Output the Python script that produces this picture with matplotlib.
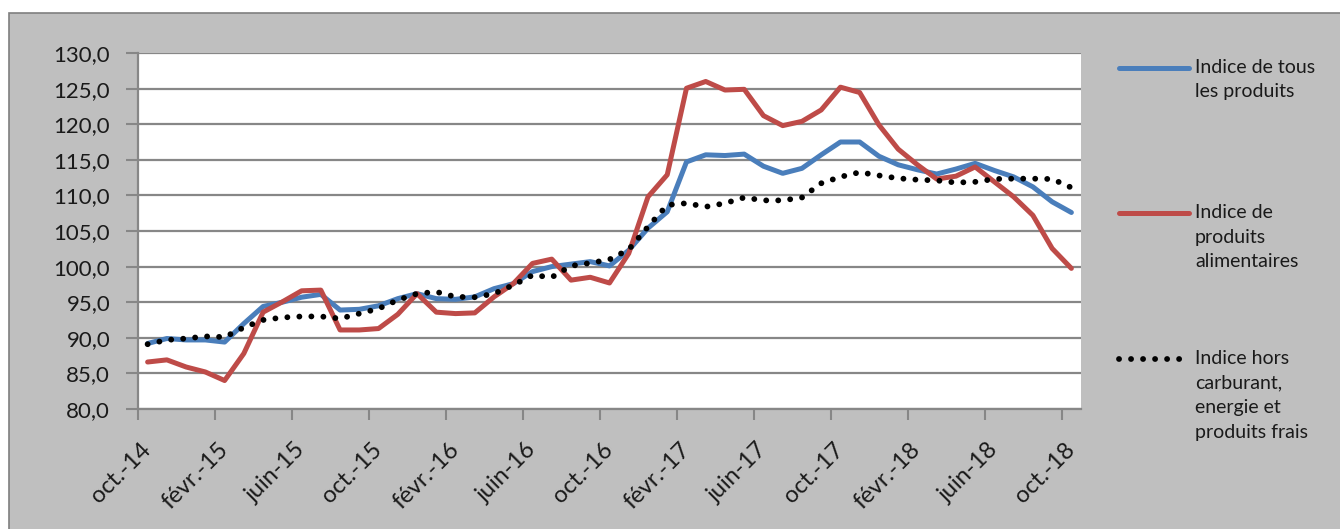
import matplotlib.pyplot as plt
from matplotlib.lines import Line2D
from matplotlib.patches import Rectangle
import numpy as np

# monthly indices, oct. 2014 -> oct. 2018
tous = [89.2, 89.9, 89.7, 89.7, 89.4, 92.0, 94.4, 95.0, 95.7, 96.1,
        93.9, 94.0, 94.5, 95.5, 96.2, 95.5, 95.4, 95.75, 96.9, 97.6,
        99.3, 100.0, 100.35, 100.7, 100.1, 102.3, 105.4, 107.7, 114.7, 115.7,
        115.6, 115.8, 114.1, 113.1, 113.8, 115.7, 117.5, 117.5, 115.5, 114.3,
        113.6, 113.0, 113.7, 114.5, 113.5, 112.6, 111.2, 109.1, 107.6]
alim = [86.6, 86.9, 85.9, 85.2, 84.0, 87.8, 93.6, 95.05, 96.6, 96.7,
        91.1, 91.1, 91.3, 93.3, 96.2, 93.6, 93.4, 93.5, 95.75, 97.6,
        100.45, 101.05, 98.1, 98.5, 97.7, 101.85, 109.8, 112.9, 125.05, 126.0,
        124.8, 124.9, 121.2, 119.8, 120.4, 122.0, 125.2, 124.45, 119.9, 116.5,
        114.3, 112.3, 112.7, 114.0, 111.9, 109.8, 107.2, 102.55, 99.75]
hors = [89.1, 89.7, 89.9, 90.2, 90.1, 91.45, 92.5, 92.85, 93.0, 93.0,
        92.7, 93.4, 94.1, 95.3, 96.2, 96.45, 95.75, 95.7, 96.2, 97.4,
        98.8, 98.5, 100.1, 100.5, 101.0, 102.4, 105.6, 108.65, 108.9, 108.4,
        108.9, 109.7, 109.3, 109.3, 109.7, 111.7, 112.6, 113.25, 112.8, 112.4,
        112.2, 112.1, 111.8, 111.9, 112.3, 112.35, 112.35, 112.3, 111.1]

tick_labels = ['oct.-14', 'févr.-15', 'juin-15', 'oct.-15', 'févr.-16', 'juin-16',
               'oct.-16', 'févr.-17', 'juin-17', 'oct.-17', 'févr.-18', 'juin-18',
               'oct.-18']
series_labels = ['Indice de tous\nles produits',
                 'Indice de\nproduits\nalimentaires',
                 'Indice hors\ncarburant,\nenergie et\nproduits frais']

BLUE = '#4A7EBB'
RED = '#BE4B48'
GREY_BG = '#BFBFBF'
GRID = '#878787'

plt.rcParams['font.family'] = ['Lato', 'DejaVu Sans']

W, H = 1340, 529
fig = plt.figure(figsize=(W / 100, H / 100), dpi=100, facecolor='white')

# grey chart panel
fig.add_artist(Rectangle((9 / W, -0.01), 1.0, 1 - 13 / H + 0.01, transform=fig.transFigure,
                         facecolor=GREY_BG, edgecolor='#7F7F7F', linewidth=1.2,
                         zorder=-5))

ax = fig.add_axes([138 / W, 1 - 409 / H, (1081 - 138) / W, (409 - 53) / H])
ax.set_facecolor('white')

DOTS = dict(color='black', lw=4.2, linestyle=(0, (0.01, 2.05)), dash_capstyle='round')

x = np.arange(len(tous))
ax.plot(x, tous, color=BLUE, lw=3.6, solid_capstyle='round', zorder=3)
ax.plot(x, alim, color=RED, lw=3.6, solid_capstyle='round', zorder=3)
ax.plot(x, hors, zorder=4, **DOTS)

ax.set_xlim(-0.5, len(tous) - 0.5)
ax.set_ylim(80, 130)
ax.set_yticks(np.arange(80, 131, 5))
ax.set_yticklabels([f'{v:.1f}'.replace('.', ',') for v in np.arange(80, 131, 5)])
ax.yaxis.grid(True, color=GRID, lw=1.6)
ax.set_axisbelow(True)

ax.set_xticks(np.arange(0, len(tous), 4))
ax.set_xticklabels(tick_labels, rotation=45, ha='right', va='center',
                   rotation_mode='anchor')
ax.set_xticks(np.arange(-0.5, len(tous), 4), minor=True)
ax.tick_params(axis='x', which='major', length=0, pad=27, labelsize=17, colors='#1a1a1a')
ax.tick_params(axis='x', which='minor', length=8, width=1.5, color=GRID)
ax.tick_params(axis='y', length=9, width=1.5, color=GRID, labelsize=16, pad=11,
               labelcolor='#1a1a1a')

for s in ['top', 'right']:
    ax.spines[s].set_visible(False)
for s in ['left', 'bottom']:
    ax.spines[s].set_color(GRID)
    ax.spines[s].set_linewidth(1.6)

# legend, handles level with first text line
styles = [dict(color=BLUE, lw=3.6, solid_capstyle='round'),
          dict(color=RED, lw=3.6, solid_capstyle='round'),
          DOTS]
for ypix, lab, st in zip([67.7, 213, 359], series_labels, styles):
    yf = 1 - ypix / H
    fig.add_artist(Line2D([1119 / W, 1189 / W], [yf, yf], transform=fig.transFigure, **st))
    fig.text(1195 / W, 1 - (ypix - 9) / H, lab, fontsize=14, va='top', ha='left',
             linespacing=1.55, color='#1a1a1a')

fig.savefig('out.png', dpi=100, facecolor=fig.get_facecolor())
